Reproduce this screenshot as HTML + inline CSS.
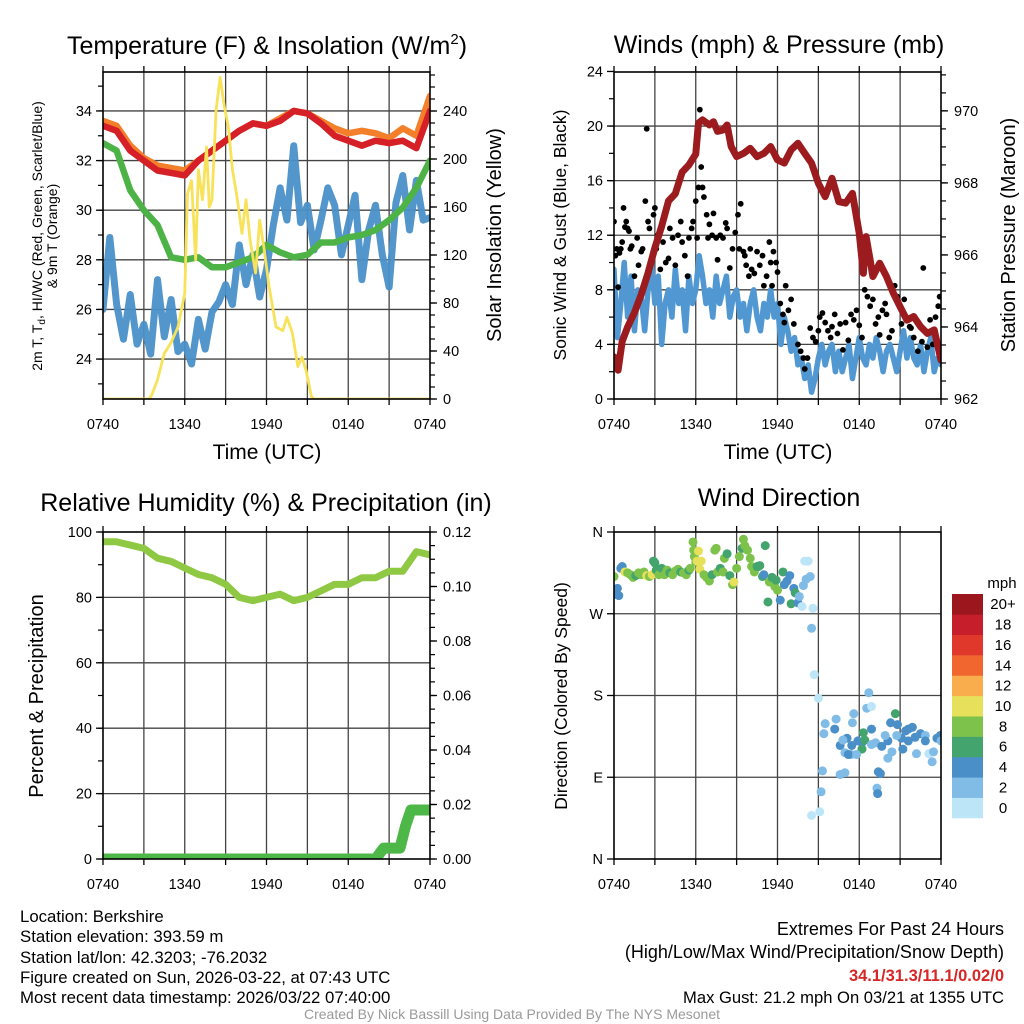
<!DOCTYPE html>
<html><head><meta charset="utf-8"><style>
html,body{margin:0;padding:0;background:#fff}
svg{display:block;font-family:"Liberation Sans",Arial,sans-serif}
</style></head><body>
<svg id="fig" width="1024" height="1024" viewBox="0 0 1024 1024" xmlns="http://www.w3.org/2000/svg">
<defs>
<clipPath id="c1"><rect x="103" y="72" width="327" height="327"/></clipPath>
<clipPath id="c2"><rect x="614" y="72" width="327" height="327"/></clipPath>
<clipPath id="c3"><rect x="103" y="532" width="327" height="327"/></clipPath>
<clipPath id="c4"><rect x="614" y="532" width="327" height="327"/></clipPath>
</defs>
<rect x="0" y="0" width="1024" height="1024" fill="#fff"/>
<g id="grid"></g>
<g id="marks"></g>
<g id="axes"></g>

<text x="267" y="54" font-size="25" text-anchor="middle">Temperature (F) &amp; Insolation (W/m<tspan dy="-10" font-size="15">2</tspan><tspan dy="10">)</tspan></text>
<text x="779" y="53" font-size="25" text-anchor="middle">Winds (mph) &amp; Pressure (mb)</text>
<text x="266" y="511" font-size="25" text-anchor="middle">Relative Humidity (%) &amp; Precipitation (in)</text>
<text x="779" y="506" font-size="25" text-anchor="middle">Wind Direction</text>

<text x="267" y="459" font-size="21" text-anchor="middle">Time (UTC)</text>
<text x="778" y="459" font-size="21" text-anchor="middle">Time (UTC)</text>

<text transform="translate(42,236) rotate(-90)" font-size="14" text-anchor="middle">2m T, T<tspan dy="3" font-size="10">d</tspan><tspan dy="-3">, HI/WC (Red, Green, Scarlet/Blue)</tspan></text>
<text transform="translate(57,236) rotate(-90)" font-size="14" text-anchor="middle">&amp; 9m T (Orange)</text>
<text transform="translate(501,235) rotate(-90)" font-size="20" text-anchor="middle">Solar Insolation (Yellow)</text>
<text transform="translate(566,235) rotate(-90)" font-size="17.5" text-anchor="middle">Sonic Wind &amp; Gust (Blue, Black)</text>
<text transform="translate(1015,235) rotate(-90)" font-size="20" text-anchor="middle">Station Pressure (Maroon)</text>
<text transform="translate(43,696) rotate(-90)" font-size="20" text-anchor="middle">Percent &amp; Precipitation</text>
<text transform="translate(567,696) rotate(-90)" font-size="17.5" text-anchor="middle">Direction (Colored By Speed)</text>

<g id="cbar"></g>
<text x="1002" y="588" font-size="15" text-anchor="middle">mph</text>

<g font-size="16.8">
<text x="20" y="922">Location: Berkshire</text>
<text x="20" y="942">Station elevation: 393.59 m</text>
<text x="20" y="963">Station lat/lon: 42.3203; -76.2032</text>
<text x="20" y="983">Figure created on Sun, 2026-03-22, at 07:43 UTC</text>
<text x="20" y="1003">Most recent data timestamp: 2026/03/22 07:40:00</text>
</g>
<g text-anchor="end">
<text x="1004" y="935" font-size="18">Extremes For Past 24 Hours</text>
<text x="1004" y="958" font-size="18">(High/Low/Max Wind/Precipitation/Snow Depth)</text>
<text x="1004" y="981" font-size="16.5" fill="#d62728" font-weight="bold">34.1/31.3/11.1/0.02/0</text>
<text x="1004" y="1003" font-size="16.6">Max Gust: 21.2 mph On 03/21 at 1355 UTC</text>
</g>
<text x="512" y="1019" font-size="14" fill="#9a9a9a" text-anchor="middle">Created By Nick Bassill Using Data Provided By The NYS Mesonet</text>
</svg>
<script>
// ---------- data ----------
const xTickLabels = ["0740","1340","1940","0140","0740"];
const tempRed = [33.4,33.2,32.4,32.0,31.6,31.5,31.4,32.0,32.4,32.8,33.2,33.5,33.4,33.6,34.0,33.9,33.5,33.0,32.8,32.6,32.8,32.7,32.8,32.5,34.0];
const tempOrange = [33.6,33.4,32.6,32.1,31.8,31.7,31.6,32.0,32.4,32.8,33.2,33.5,33.4,33.7,34.0,33.9,33.6,33.3,33.1,33.2,33.1,32.9,33.3,33.0,34.6];
const dewGreen = [32.7,32.4,30.8,30.0,29.4,28.1,28.0,28.1,27.7,27.7,27.9,28.1,28.6,28.3,28.1,28.2,28.7,28.7,28.9,29.0,29.2,29.6,30.1,30.9,32.0];
const windChillBlue = [26.0,28.9,26.2,24.8,26.6,24.6,25.4,24.2,27.2,24.9,26.4,24.3,24.6,23.8,25.6,24.4,25.9,26.3,27.0,26.2,28.6,27.0,28.2,26.5,27.6,29.4,30.9,29.6,32.6,29.5,30.2,28.4,29.6,30.9,30.2,28.2,29.4,30.6,27.2,29.2,30.2,28.2,26.9,30.3,31.4,29.2,31.2,29.6,29.7];
const solarHours = [0,3.4,3.6,4,4.5,5,5.5,6,6.2,6.5,6.8,7,7.3,7.6,7.8,8,8.3,8.6,8.9,9.2,9.5,9.8,10.2,10.5,10.8,11.2,11.5,11.8,12.2,12.7,13.2,13.5,13.9,14.3,14.6,14.9,15.3,15.5,24];
const solarValues = [0,0,4,16,38,47,60,88,171,182,116,191,166,210,160,166,241,268,244,227,191,171,138,166,132,105,149,127,93,60,57,68,55,27,35,24,2,0,0];
const pressureHours = [0,0.3,0.6,1,1.5,2,2.5,3,3.5,4,4.5,5,5.5,6,6.2,6.5,7,7.3,7.6,8,8.3,8.6,9,9.5,10,10.5,11,11.5,12,12.5,13,13.5,14,14.5,15,15.5,16,16.5,17,17.5,18,18.3,18.5,18.8,19,19.5,20,20.5,21,21.5,22,22.5,23,23.5,24];
const pressureValues = [963.17,962.8,963.6,964.0,964.4,964.9,965.5,966.2,966.8,967.5,967.7,968.3,968.5,968.8,969.66,969.75,969.61,969.70,969.43,969.47,969.61,969.01,968.73,968.82,968.96,968.73,968.82,969.01,968.64,968.55,968.92,969.10,968.82,968.55,967.99,967.62,968.13,967.48,967.44,967.71,966.60,965.49,966.51,965.86,965.40,965.77,965.40,964.94,964.56,964.19,964.29,964.01,963.82,963.92,963.08];
const windSpeed = [9.5,4.5,7,10,6,9,5,8,7.5,5,8,10,7,9,4,7,8,6,9.5,7,8,5,9,7,8,10.5,9,7,8,6,9,7,8,9,6,7.5,8,6,7,5,7,8,6,5,7,6,8,6,7,4,6,5,3.5,4.5,2.5,3,1.5,2.5,0.5,1.5,3,4,2.5,3.5,4,2,3.5,2,3,4,1.5,3,4.5,3,2.5,4,3,4.5,3.5,2,3.5,4,3,2,3.5,5,3,4.5,3,2.5,4,2,3.5,4.5,2,3,2.5];
const gustHours = [0,0.1,0.2,0.3,0.4,0.5,0.6,0.7,0.8,0.9,1.0,1.1,1.2,1.3,1.5,1.7,1.8,2.0,2.1,2.3,2.4,2.5,2.6,2.7,2.9,3.0,3.1,3.2,3.4,3.6,3.8,4.0,4.1,4.3,4.5,4.7,4.9,5.0,5.2,5.4,5.5,5.7,5.8,6.0,6.1,6.2,6.3,6.4,6.5,6.6,6.8,6.9,7.0,7.2,7.3,7.5,7.6,7.8,8.0,8.2,8.3,8.5,8.7,8.9,9.1,9.2,9.3,9.5,9.6,9.7,9.9,10.0,10.1,10.3,10.5,10.7,10.9,11.0,11.2,11.4,11.5,11.6,11.7,11.9,12.0,12.2,12.4,12.5,12.6,12.8,13.0,13.2,13.5,13.7,13.9,14.0,14.2,14.4,14.6,14.8,15.0,15.1,15.3,15.5,15.7,15.9,16.0,16.2,16.4,16.6,16.8,17.0,17.2,17.4,17.6,17.8,18.0,18.2,18.3,18.4,18.6,18.8,19.0,19.2,19.4,19.5,19.7,19.9,20.0,20.2,20.4,20.6,20.8,21.0,21.1,21.3,21.5,21.7,21.8,22.0,22.3,22.6,22.7,23.0,23.2,23.4,23.6,23.8,23.9];
const gustValues = [13,10.5,11,8.2,10.7,11,11.5,14,12.6,13,12.5,12.3,11,11.2,9,11.8,9.8,10.8,11,14.5,19.8,13,12.5,10,13.5,14,11,12,9.5,11.5,10,10.3,12.5,11.8,9.8,12,13,11.5,10.5,9,11.8,12.5,13,14.5,11.8,15.5,21.2,17,15.5,14.8,13.5,11.8,12.8,12,13.6,11.8,10.2,12,11.8,12.9,12.5,9.6,11,12.2,13.5,11,14.3,10.8,10.5,9.8,9,11,9.5,9.2,10.8,9.8,10.5,8.3,9,11.5,10,8.3,10.8,10,9.3,7,6.2,5.6,8.3,6.5,7.3,5.5,4,3.5,3,2.2,3,5.2,4.5,4.2,5,6,6.3,5.6,5,4.5,5.3,6.2,4.8,5.5,3.6,5.6,4.3,6.2,5.8,6.5,5.4,4.5,9.9,8,7.5,6.8,7.3,5.5,6,4.7,6.5,7,6.2,4.5,5,8.3,7.5,6.7,5.5,7.3,5.8,5.3,5.2,4.5,3.5,4.2,9.6,3.8,5.8,4,6,6.8,7.5];
const rhValues = [97,97,96,95,92,91,89,87,86,84,80,79,80,81,79,80,82,84,84,86,86,88,88,94,93];
const precipHours = [0,20.0,20.6,21.8,22.2,22.6,24];
const precipValues = [0,0,0.004,0.004,0.012,0.018,0.018];
const dirHours = [0,0.1,0.2,0.25,0.35,0.5,0.6,0.8,1.0,1.2,1.4,1.6,1.8,2.0,2.2,2.4,2.6,2.8,2.9,3.0,3.1,3.3,3.5,3.7,3.9,4.1,4.3,4.5,4.7,4.9,5.1,5.3,5.5,5.6,5.8,5.85,5.9,6.0,6.1,6.2,6.3,6.4,6.6,6.8,7.0,7.2,7.4,7.5,7.6,7.8,8.0,8.1,8.3,8.5,8.7,8.8,9.0,9.2,9.4,9.5,9.6,9.8,10.0,10.1,10.3,10.5,10.6,10.7,10.9,11.0,11.1,11.3,11.4,11.6,11.8,11.9,12.0,12.2,12.4,12.5,12.7,12.9,13.0,13.2,13.3,13.5,13.6,13.8,13.9,14.0,14.1,14.25,14.4,14.5,14.6,14.7,14.5,15.1,15.2,15.0,15.3,15.4,15.5,16.3,16.2,16.6,16.95,17.1,17.6,17.5,17.9,17.4,16.6,16.95,18.2,18.3,18.4,18.2,18.55,18.7,18.9,18.9,19.2,19.65,20.1,19.9,19.4,19.55,19.3,19.35,20.1,20.4,20.3,20.65,20.8,21.1,21.4,21.6,21.9,22.1,22.5,22.85,22.2,23.1,23.35,23.45,23.7,23.95,24,22.85,21.2,21.6,20.75,18.9,17.2,16.8,17.8,17.45];
const dirValues = [311,296,291,298,290,320,322,316,315,313,310,312,315,313,316,312,311,313,328,326,318,313,320,313,318,315,313,317,319,316,315,313,318,320,349,340,333,327,328,339,319,328,313,310,306,313,340,342,316,320,316,331,336,312,302,305,320,333,342,352,345,340,331,322,316,322,322,323,311,313,345,283,305,310,300,307,296,285,316,302,306,312,281,298,293,282,289,278,301,328,308,328,311,254,276,203,48,52,74,177,97,138,149,154,143,125,117,133,160,150,130,115,93,95,128,139,131,121,166,183,168,143,128,124,130,136,96,94,78,72,111,118,150,160,148,133,141,143,145,134,138,136,116,116,107,118,133,136,130,130,121,130,136,126,115,131,115,125];
const dirSpeeds = [8,6,4,4,4,4,4,10,8,8,8,6,8,8,8,10,8,10,6,6,6,8,6,8,8,6,8,8,8,6,8,8,6,8,8,8,8,8,10,10,10,10,8,8,8,6,8,8,8,6,8,8,6,6,8,10,8,8,6,8,8,8,8,8,8,6,6,6,6,4,6,6,8,6,8,6,8,4,6,4,4,4,6,4,6,4,2,0,2,0,2,0,2,2,0,0,0,0,2,0,2,2,2,2,4,4,2,4,2,2,4,2,2,2,4,6,6,6,2,2,0,4,2,4,4,2,4,4,2,4,2,2,4,6,4,4,4,4,4,4,4,2,2,0,2,2,4,4,2,4,4,4,2,2,4,2,2,4,4,2,4,2,4];
const cbarLabels = ["0","2","4","6","8","10","12","14","16","18","20+"];
const cbarColors = ["#bde5f8","#80bce6","#4a8fc7","#43a46d","#7dc24a","#e6e05a","#f9ad4c","#f0662e","#e0392b","#c61f2b","#9c171d"];

// ---------- helpers ----------
const NS = "http://www.w3.org/2000/svg";
const grid = document.getElementById("grid");
const marks = document.getElementById("marks");
const axes = document.getElementById("axes");
function mk(parent, tag, attrs) {
  const e = document.createElementNS(NS, tag);
  for (const k in attrs) e.setAttribute(k, attrs[k]);
  parent.appendChild(e);
  return e;
}
function panel(L, R, T, B, y0, y1, r0, r1) {
  return {
    L, R, T, B,
    x: h => L + h / 24 * (R - L),
    y: v => B - (v - y0) / (y1 - y0) * (B - T),
    yr: v => B - (v - r0) / (r1 - r0) * (B - T)
  };
}
const P1 = panel(103, 430, 72, 399, 22.39, 35.57, 0, 272.5);
const P2 = panel(614, 941, 72, 399, 0, 23.96, 962, 971.08);
const P3 = panel(103, 430, 532, 859, 0, 100, 0, 0.12);
const P4 = panel(614, 941, 532, 859, 0, 360, 0, 360);

function drawFrame(P, name, leftTicks, leftLabels, leftMinor, rightTicks, rightLabels, rightMinor, useRight, gridVals) {
  for (let h = 3; h < 24; h += 3) {
    const g = mk(grid, "line", {x1: P.x(h), x2: P.x(h), y1: P.T, y2: P.B, stroke: "#444", "stroke-width": 1.3});
    
    
  }
  gridVals.forEach(v => {
    const g = mk(grid, "line", {x1: P.L, x2: P.R, y1: P.y(v), y2: P.y(v), stroke: "#444", "stroke-width": 1.3});
    
    
  });
  const fr = mk(axes, "rect", {x: P.L, y: P.T, width: P.R - P.L, height: P.B - P.T, fill: "none", stroke: "#000", "stroke-width": 1.6});
  
  
  for (let h = 0; h <= 24; h += 3) {
    const t1 = mk(axes, "line", {x1: P.x(h), x2: P.x(h), y1: P.B, y2: P.B + 6, stroke: "#000", "stroke-width": 1.3});
    
    
    const t2 = mk(axes, "line", {x1: P.x(h), x2: P.x(h), y1: P.T, y2: P.T - 6, stroke: "#000", "stroke-width": 1.3});
    
    
  }
  xTickLabels.forEach((lab, i) => {
    const t = mk(axes, "text", {x: P.x(i * 6), y: P.B + 30, "font-size": 14.5, "text-anchor": "middle"});
    t.textContent = lab;
    
    
  });
  leftMinor.forEach(v => {
    const t = mk(axes, "line", {x1: P.L, x2: P.L - 5, y1: P.y(v), y2: P.y(v), stroke: "#000", "stroke-width": 1.2});
    
    
  });
  leftTicks.forEach((v, i) => {
    const t = mk(axes, "line", {x1: P.L, x2: P.L - 7, y1: P.y(v), y2: P.y(v), stroke: "#000", "stroke-width": 1.3});
    
    
    const l = mk(axes, "text", {x: P.L - 11, y: P.y(v) + 5, "font-size": 14.5, "text-anchor": "end"});
    l.textContent = leftLabels[i];
    
    
  });
  if (useRight) {
    rightMinor.forEach(v => {
      const t = mk(axes, "line", {x1: P.R, x2: P.R + 5, y1: P.yr(v), y2: P.yr(v), stroke: "#000", "stroke-width": 1.2});
      
      
    });
    rightTicks.forEach((v, i) => {
      const t = mk(axes, "line", {x1: P.R, x2: P.R + 7, y1: P.yr(v), y2: P.yr(v), stroke: "#000", "stroke-width": 1.3});
      
      
      const l = mk(axes, "text", {x: P.R + 13, y: P.yr(v) + 5, "font-size": 14.5, "text-anchor": "start"});
      l.textContent = rightLabels[i];
      
      
    });
  }
}
function range(a, b, s) { const r = []; for (let v = a; v <= b + 1e-9; v += s) r.push(+v.toFixed(4)); return r; }

drawFrame(P1, "temperature", [24,26,28,30,32,34], ["24","26","28","30","32","34"], range(23, 35, 1),
  [0,40,80,120,160,200,240], ["0","40","80","120","160","200","240"], range(0, 270, 10), true, [24,26,28,30,32,34]);
drawFrame(P2, "winds", [0,4,8,12,16,20,24], ["0","4","8","12","16","20","24"], range(0, 22, 2),
  [962,964,966,968,970], ["962","964","966","968","970"], range(962, 971, 0.5), true, [4,8,12,16,20]);
drawFrame(P3, "humidity", [0,20,40,60,80,100], ["0","20","40","60","80","100"], range(0, 100, 10),
  [0,0.02,0.04,0.06,0.08,0.10,0.12], ["0.00","0.02","0.04","0.06","0.08","0.10","0.12"], range(0, 0.12, 0.005), true, [20,40,60,80]);
drawFrame(P4, "direction", [0,90,180,270,360], ["N","E","S","W","N"], [], [], [], [], false, [90,180,270]);

function line(P, clip, hours, vals, yf, color, w, op) {
  const pts = vals.map((v, i) => P.x(hours[i]).toFixed(2) + "," + yf(v).toFixed(2)).join(" ");
  return mk(marks, "polyline", {points: pts, fill: "none", stroke: color, "stroke-width": w,
    "stroke-linejoin": "round", "stroke-linecap": "round", "clip-path": "url(#" + clip + ")", opacity: op || 1});
}
const hrs = arr => arr.map((_, i) => i * 24 / (arr.length - 1));

let e;
e = line(P1, "c1", hrs(windChillBlue), windChillBlue, P1.y, "#4a90c8", 7, 0.95);


e = line(P1, "c1", hrs(dewGreen), dewGreen, P1.y, "#4db346", 6.5);


e = line(P1, "c1", hrs(tempOrange), tempOrange, P1.y, "#f47f2a", 6.5);


e = line(P1, "c1", hrs(tempRed), tempRed, P1.y, "#d62027", 6.5);


e = line(P1, "c1", solarHours, solarValues, P1.yr, "#f7e25a", 2.8);



e = line(P2, "c2", hrs(windSpeed), windSpeed, P2.y, "#5198d2", 5.5);


gustValues.forEach((g, i) => {
  const c = mk(marks, "circle", {cx: P2.x(gustHours[i]), cy: P2.y(g), r: 2.9, fill: "#000", "clip-path": "url(#c2)"});
  
  
});
e = line(P2, "c2", pressureHours, pressureValues, P2.yr, "#9b1b1e", 7);



e = line(P3, "c3", hrs(rhValues), rhValues, P3.y, "#8fc843", 7);


e = line(P3, "c3", precipHours, precipValues, P3.yr, "#4db848", 11);



dirValues.forEach((d, i) => {
  const s = dirSpeeds[i] === undefined ? 4 : dirSpeeds[i];
  const bin = Math.min(10, Math.floor(s / 2));
  const c = mk(marks, "circle", {cx: P4.x(dirHours[i]), cy: P4.y(d), r: 4.5, fill: cbarColors[bin], "clip-path": "url(#c4)"});
  
  
});

const cb = document.getElementById("cbar");
const cbTop = 594, cbH = 224, cbN = cbarLabels.length;
cbarLabels.forEach((lab, i) => {
  const k = cbN - 1 - i;
  const y = cbTop + k * cbH / cbN;
  const r = mk(cb, "rect", {x: 952, y: y, width: 31, height: cbH / cbN + 0.3, fill: cbarColors[i]});
  
  
  const t = mk(cb, "text", {x: 1003, y: y + cbH / cbN / 2 + 5, "font-size": 15, "text-anchor": "middle"});
  t.textContent = lab;
  
  
});
</script>
</body></html>
